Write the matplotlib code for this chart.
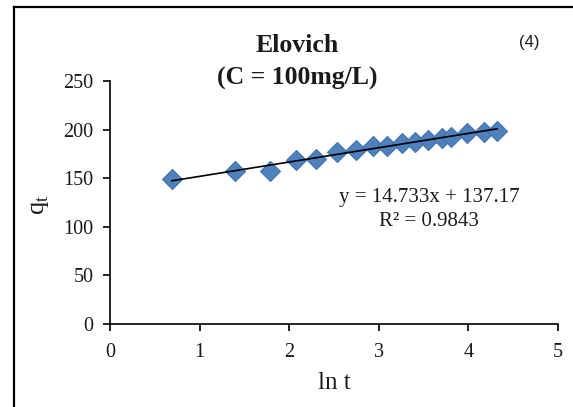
import matplotlib
matplotlib.use("Agg")
from matplotlib import pyplot as plt
from matplotlib.lines import Line2D
import numpy as np

# ln t and q_t
ln_t = [0.69, 1.39, 1.79, 2.08, 2.30, 2.53, 2.75, 2.94, 3.09, 3.26,
        3.40, 3.55, 3.70, 3.81, 3.98, 4.17, 4.32]
q_t = [149.2, 157.4, 157.7, 168.7, 169.8, 176.5, 179.0, 183.1, 183.1,
       185.9, 187.6, 189.3, 191.1, 192.7, 196.2, 197.8, 198.9]

slope = 14.733
intercept = 137.17
r2 = 0.9843

x_ticks = [0, 1, 2, 3, 4, 5]
y_ticks = [0, 50, 100, 150, 200, 250]

serif = ["Liberation Serif", "DejaVu Serif"]
ink = "#1a1a1a"

fig = plt.figure(figsize=(5.73, 4.07), dpi=100)
ax = fig.add_axes([110 / 573, 83 / 407, 448 / 573, 243 / 407])

ln_t = np.array(ln_t)
ax.plot(ln_t, q_t, linestyle="none", marker="D", markersize=10,
        markerfacecolor="#4F81BD", markeredgecolor="#3F72AE",
        markeredgewidth=0.8, zorder=2)
fit_x = np.array([ln_t.min(), ln_t.max()])
ax.plot(fit_x, slope * fit_x + intercept, color="black", linewidth=1.2, zorder=3)

ax.set_xlim(0, 5)
ax.set_ylim(0, 250)
ax.set_xticks(x_ticks)
ax.set_yticks(y_ticks)
for s in ["top", "right"]:
    ax.spines[s].set_visible(False)
for s in ["left", "bottom"]:
    ax.spines[s].set_linewidth(1.2)
ax.tick_params(axis="both", direction="out", length=5, width=1.2)
ax.tick_params(axis="x", pad=9)
ax.tick_params(axis="y", pad=7)
for lab in ax.get_xticklabels() + ax.get_yticklabels():
    lab.set_family(serif)
    lab.set_fontsize(14.5)
    lab.set_color(ink)

ax.set_xlabel("ln t", family=serif, fontsize=18, va="center", color=ink)
ax.xaxis.set_label_coords(0.5, -0.243)
ax.set_ylabel(r"q$_\mathregular{t}$", family=serif, fontsize=19, va="center",
              color=ink)
ax.yaxis.set_label_coords(-0.156, 0.49)

fig.text(297 / 573, 1 - 62 / 407, "Elovich\n(C = 100mg/L)", family=serif,
         fontsize=18.5, fontweight="bold", ha="center", va="center",
         linespacing=1.5, color=ink)
fig.text(429 / 573, 1 - 197 / 407, f"y = {slope}x + {intercept}", family=serif,
         fontsize=15, ha="center", va="center", color=ink)
fig.text(429 / 573, 1 - 222 / 407, f"R² = {r2}", family=serif,
         fontsize=15, ha="center", va="center", color=ink)
fig.text(529 / 573, 1 - 42 / 407, "(4)", family=["Liberation Sans", "DejaVu Sans"],
         fontsize=12, ha="center", va="center", color=ink)

# outer frame, cut by the image edge
fx = 14 / 573
fy = 1 - 7 / 407
fig.add_artist(Line2D([fx, 1], [fy, fy], color="black", linewidth=1.6,
                      transform=fig.transFigure))
fig.add_artist(Line2D([fx, fx], [0, fy], color="black", linewidth=1.6,
                      transform=fig.transFigure))

fig.savefig("out.png", dpi=100)
